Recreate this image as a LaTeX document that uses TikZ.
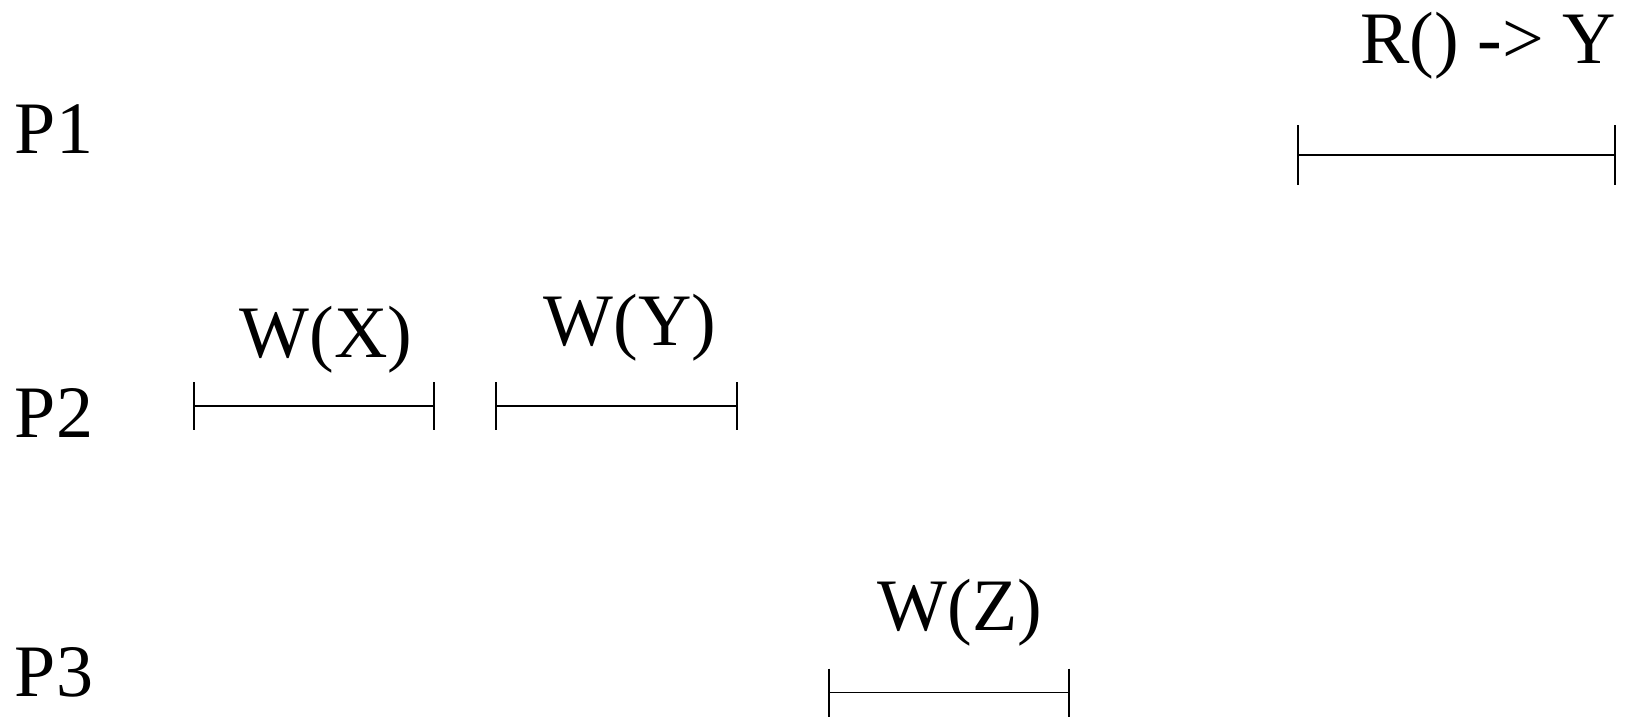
\documentclass[tikz,border=0pt]{standalone}
\usepackage{fontspec}
\setmainfont{Liberation Serif}
\begin{document}
\begin{tikzpicture}[x=1pt,y=-1pt,
  lbl/.style={inner sep=0pt,outer sep=0pt,font=\fontsize{74}{88}\selectfont},
  span/.style={line width=1.6pt},
  tick/.style={line width=2pt}]
\useasboundingbox[fill=white] (0,0) rectangle (1634,717);

% process names
\node[lbl,anchor=base west] (p1) at (15,153) {P1};
\node[lbl,anchor=base west] (p2) at (15,437) {P2};
\node[lbl,anchor=base west] (p3) at (15,696) {P3};

% operation labels
\node[lbl,anchor=base] (rl) at (1488,64) {R() -> Y};
\node[lbl,anchor=base] (wx) at (326,357) {W(X)};
\node[lbl,anchor=base] (wy) at (630,345) {W(Y)};
\node[lbl,anchor=base] (wz) at (960,630) {W(Z)};

% interval end points
\coordinate (r0) at (1297.5,155);
\coordinate (r1) at (1615,155);
\coordinate (x0) at (194,406);
\coordinate (x1) at (434,406);
\coordinate (y0) at (496,406);
\coordinate (y1) at (737,406);
\coordinate (z0) at (829,692.5);
\coordinate (z1) at (1069,692.5);

% intervals with end ticks
\draw[span] (r0) -- (r1);
\foreach \c in {r0,r1}
  \draw[tick] ([yshift=30pt]\c) -- ([yshift=-30pt]\c);
\foreach \a/\b in {x0/x1,y0/y1,z0/z1}{
  \draw[span] (\a) -- (\b);
  \draw[tick] ([yshift=24pt]\a) -- ([yshift=-24pt]\a);
  \draw[tick] ([yshift=24pt]\b) -- ([yshift=-24pt]\b);
}
\end{tikzpicture}
\end{document}
